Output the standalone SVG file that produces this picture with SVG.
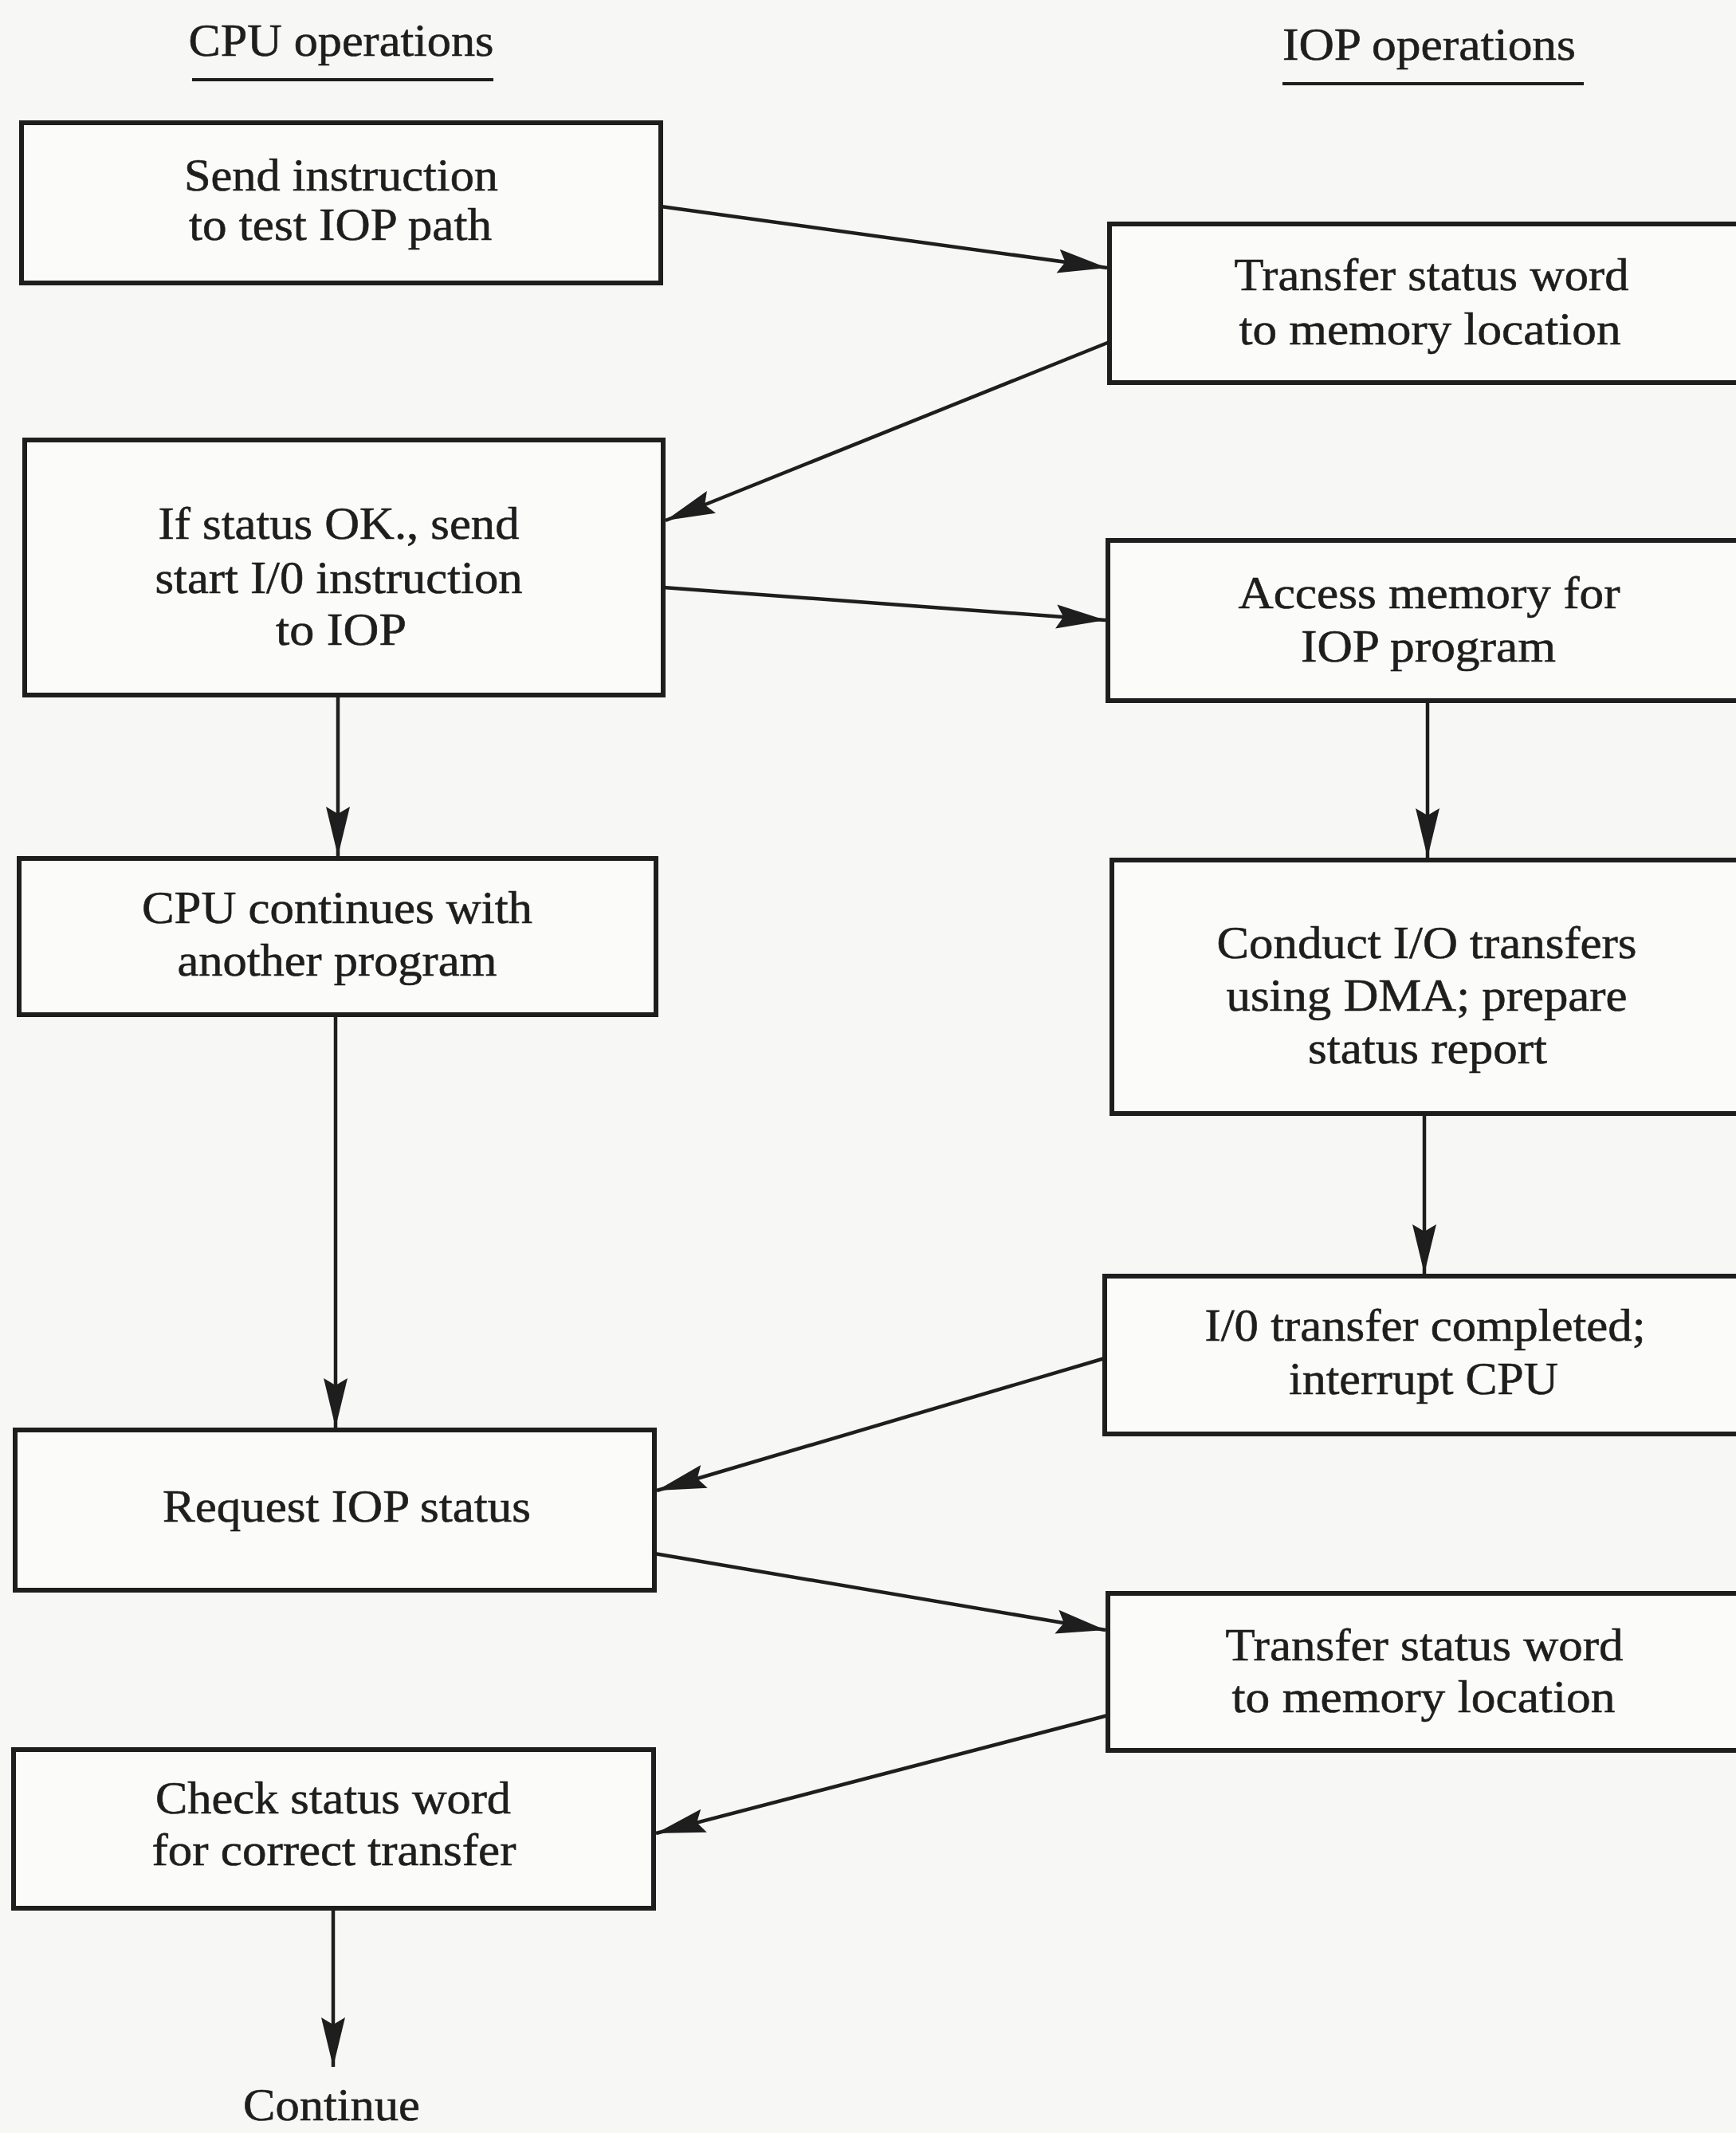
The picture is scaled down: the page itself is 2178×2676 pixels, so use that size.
<svg xmlns="http://www.w3.org/2000/svg" width="2178" height="2676" viewBox="0 0 2178 2676">
<style>
.bg{fill:#f7f7f5}
.box{fill:#fbfbfa;stroke:#1e1e1e;stroke-width:6}
.t{font-family:"Liberation Serif","Times New Roman",serif;font-size:57px;fill:#1e1e1e;stroke:#1e1e1e;stroke-width:0.6;text-anchor:middle}
.ul{stroke:#1e1e1e;stroke-width:4}
.c{fill:none;stroke:#1e1e1e;stroke-width:4.5}
</style>
<defs>
<marker id="ah" viewBox="0 0 62 32" refX="62" refY="16" markerWidth="62" markerHeight="32" markerUnits="userSpaceOnUse" orient="auto">
<path d="M0,1 L62,16 L0,31 L9,16 Z" fill="#1e1e1e"/>
</marker>
</defs>
<rect class="bg" x="0" y="0" width="2178" height="2676"/>
<g id="headers">
<text class="t" x="428" y="70" textLength="383" lengthAdjust="spacingAndGlyphs">CPU operations</text>
<line class="ul" x1="241" y1="100" x2="619" y2="100"/>
<text class="t" x="1793" y="75" textLength="368" lengthAdjust="spacingAndGlyphs">IOP operations</text>
<line class="ul" x1="1609" y1="105" x2="1987" y2="105"/>
</g>
<g id="cpu1">
<rect class="box" x="27" y="154" width="802" height="201"/>
<text class="t" x="428" y="239" textLength="394" lengthAdjust="spacingAndGlyphs">Send instruction</text>
<text class="t" x="427" y="301" textLength="380" lengthAdjust="spacingAndGlyphs">to test IOP path</text>
</g>
<g id="cpu2">
<rect class="box" x="31" y="552" width="801" height="320"/>
<text class="t" x="425" y="676" textLength="453" lengthAdjust="spacingAndGlyphs">If status OK., send</text>
<text class="t" x="425" y="744" textLength="461" lengthAdjust="spacingAndGlyphs">start I/0 instruction</text>
<text class="t" x="428" y="809" textLength="164" lengthAdjust="spacingAndGlyphs">to IOP</text>
</g>
<g id="cpu3">
<rect class="box" x="24" y="1077" width="799" height="196"/>
<text class="t" x="423" y="1158" textLength="490" lengthAdjust="spacingAndGlyphs">CPU continues with</text>
<text class="t" x="423" y="1224" textLength="401" lengthAdjust="spacingAndGlyphs">another program</text>
</g>
<g id="cpu4">
<rect class="box" x="19" y="1794" width="802" height="201"/>
<text class="t" x="435" y="1909" textLength="462" lengthAdjust="spacingAndGlyphs">Request IOP status</text>
</g>
<g id="cpu5">
<rect class="box" x="17" y="2195" width="803" height="199"/>
<text class="t" x="418" y="2275" textLength="446" lengthAdjust="spacingAndGlyphs">Check status word</text>
<text class="t" x="419" y="2340" textLength="457" lengthAdjust="spacingAndGlyphs">for correct transfer</text>
</g>
<g id="continue">
<text class="t" x="416" y="2660" textLength="222" lengthAdjust="spacingAndGlyphs">Continue</text>
</g>
<g id="iop1">
<rect class="box" x="1392" y="281" width="840" height="199"/>
<text class="t" x="1796" y="364" textLength="495" lengthAdjust="spacingAndGlyphs">Transfer status word</text>
<text class="t" x="1794" y="432" textLength="479" lengthAdjust="spacingAndGlyphs">to memory location</text>
</g>
<g id="iop2">
<rect class="box" x="1390" y="678" width="840" height="201"/>
<text class="t" x="1793" y="763" textLength="479" lengthAdjust="spacingAndGlyphs">Access memory for</text>
<text class="t" x="1792" y="830" textLength="320" lengthAdjust="spacingAndGlyphs">IOP program</text>
</g>
<g id="iop3">
<rect class="box" x="1395" y="1079" width="840" height="318"/>
<text class="t" x="1790" y="1202" textLength="527" lengthAdjust="spacingAndGlyphs">Conduct I/O transfers</text>
<text class="t" x="1790" y="1268" textLength="503" lengthAdjust="spacingAndGlyphs">using DMA; prepare</text>
<text class="t" x="1791" y="1334" textLength="300" lengthAdjust="spacingAndGlyphs">status report</text>
</g>
<g id="iop4">
<rect class="box" x="1386" y="1601" width="840" height="198"/>
<text class="t" x="1788" y="1682" textLength="553" lengthAdjust="spacingAndGlyphs">I/0 transfer completed;</text>
<text class="t" x="1786" y="1749" textLength="338" lengthAdjust="spacingAndGlyphs">interrupt CPU</text>
</g>
<g id="iop5">
<rect class="box" x="1390" y="1999" width="840" height="197"/>
<text class="t" x="1787" y="2083" textLength="499" lengthAdjust="spacingAndGlyphs">Transfer status word</text>
<text class="t" x="1786" y="2148" textLength="481" lengthAdjust="spacingAndGlyphs">to memory location</text>
</g>
<g id="connectors">
<line class="c" x1="829" y1="259" x2="1389" y2="336" marker-end="url(#ah)"/>
<line class="c" x1="1392" y1="429" x2="835" y2="653" marker-end="url(#ah)"/>
<line class="c" x1="832" y1="737" x2="1387" y2="778" marker-end="url(#ah)"/>
<line class="c" x1="424" y1="872" x2="424" y2="1074" marker-end="url(#ah)"/>
<line class="c" x1="1791" y1="879" x2="1791" y2="1076" marker-end="url(#ah)"/>
<line class="c" x1="421" y1="1273" x2="421" y2="1791" marker-end="url(#ah)"/>
<line class="c" x1="1787" y1="1397" x2="1787" y2="1598" marker-end="url(#ah)"/>
<line class="c" x1="1386" y1="1704" x2="824" y2="1870" marker-end="url(#ah)"/>
<line class="c" x1="821" y1="1949" x2="1387" y2="2045" marker-end="url(#ah)"/>
<line class="c" x1="1390" y1="2152" x2="823" y2="2300" marker-end="url(#ah)"/>
<line class="c" x1="418" y1="2394" x2="418" y2="2593" marker-end="url(#ah)"/>
</g>
</svg>
